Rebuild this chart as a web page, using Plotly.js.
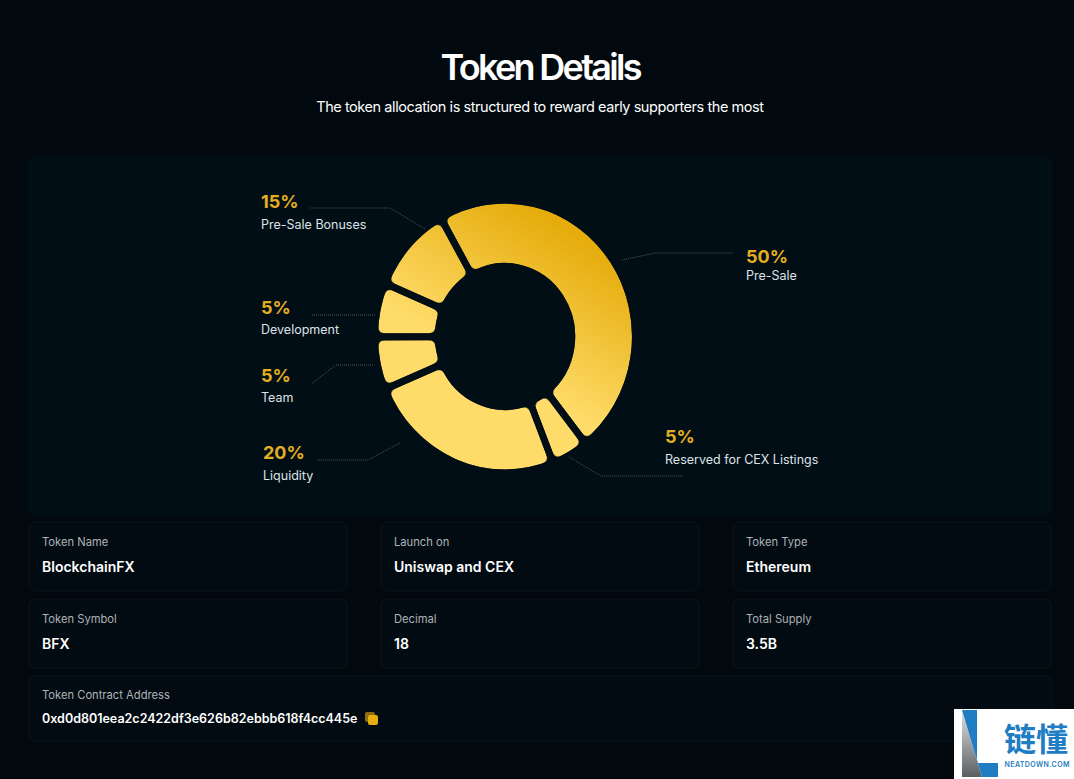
<!DOCTYPE html>
<html>
<head>
<meta charset="utf-8">
<script src="https://cdn.plot.ly/plotly-3.0.1.min.js"></script>
<style>html,body{margin:0;padding:0;background:#01090E;overflow:hidden}#c{width:1074px;height:779px}</style>
</head>
<body>
<div id="c"></div>
<script>
// Slice names and the percentages printed beside them
const sliceNames = ['Pre-Sale','Reserved for CEX Listings','Liquidity','Team','Development','Pre-Sale Bonuses'];
const statedPercents = ['50%','5%','20%','5%','5%','15%'];
// Share of the ring each slice actually occupies in the picture (read from its arcs)
const drawnShares = [47.6,4.6,24.7,6.3,6.4,10.4];

const cardLabels = ['Token Name','Launch on','Token Type','Token Symbol','Decimal','Total Supply','Token Contract Address'];
const cardValues = ['BlockchainFX','Uniswap and CEX','Ethereum','BFX','18','3.5B','0xd0d801eea2c2422df3e626b82ebbb618f4cc445e'];

const FONT = 'Inter, "Noto Sans", sans-serif';
const PANEL = '#020E16';

function rr(x0,y0,x1,y1,r){
  return `M${x0+r},${y0} L${x1-r},${y0} Q${x1},${y0} ${x1},${y0+r} L${x1},${y1-r} Q${x1},${y1} ${x1-r},${y1} L${x0+r},${y1} Q${x0},${y1} ${x0},${y1-r} L${x0},${y0+r} Q${x0},${y0} ${x0+r},${y0} Z`;
}
const px = p => ({type:'path',xref:'x',yref:'y',path:p,layer:'above'});
const shapes = [];
shapes.push(Object.assign(px(rr(28,156,1052,516,8)),{fillcolor:PANEL,line:{width:0},layer:'below'}));

const cardBoxes = [[29,522,347,591],[381,522,699,591],[733,522,1051,591],[29,599,347,668],[381,599,699,668],[733,599,1051,668],[29,676,1052,741]];
cardBoxes.forEach(b=>shapes.push(Object.assign(px(rr(b[0],b[1],b[2],b[3],7)),{fillcolor:'#020B12',line:{color:'#0A151C',width:1},layer:'below'})));

const leaders = [
  'M622,260 L655,253 L733,253',
  'M569,457 L601,476 L683,476',
  'M400,443 L368,460 L317,460',
  'M373,365 L336,365 L311,384',
  'M375,315 L312,315',
  'M425,229 L390,208 L310,208'
];
leaders.forEach(p=>shapes.push(Object.assign(px(p),{line:{color:'#4A555C',width:1,dash:'1px,1px'},layer:'below'})));

// copy icon
shapes.push(Object.assign(px(rr(365,712,375,722,2)),{fillcolor:'#8F6D0C',line:{width:0}}));
shapes.push(Object.assign(px(rr(368,715,378,725,2)),{fillcolor:'#E6AE10',line:{width:0}}));

// watermark
shapes.push(Object.assign(px('M954,709 L1074,709 L1074,779 L954,779 Z'),{fillcolor:'#FFFFFF',line:{width:0}}));
const wmGrayIndex = shapes.length;
shapes.push(Object.assign(px('M962,710 L982,777 L962,777 Z'),{fillcolor:'#999999',line:{width:0}}));
shapes.push(Object.assign(px('M962,710 L977,710 L977,763 L998,763 L998,777 L982,777 Z'),{fillcolor:'#1F7DC4',line:{width:0}}));

const ann = [];
function t(x,y,text,size,color,weight,anchor){
  ann.push({xref:'x',yref:'y',x,y,text,showarrow:false,xanchor:anchor||'left',yanchor:'middle',borderpad:0,
    font:{family:FONT,size,color,weight:weight||400}});
}
t(540,67,'Token Details',36,'#FFFFFF',600,'center');
t(540,106.5,'The token allocation is structured to reward early supporters the most',14.5,'#FFFFFF',400,'center');

const labelPos = [[745,256,275],[664,436,459],[262,452,475],[260,375,397],[260,307,329],[260,201,224]];
sliceNames.forEach((n,i)=>{
  const p = labelPos[i];
  t(p[0],p[1],statedPercents[i],18,'#E3AE20',700);
  t(p[0],p[2],n,12.5,'#DDE3E6',400);
});

cardLabels.forEach((l,i)=>{
  const b = cardBoxes[i];
  const last = i===6;
  t(b[0]+12,b[1]+(last?19:19.5),l,11.2,'#AEB3B6',400);
  t(b[0]+12,b[1]+(last?42:44.5),cardValues[i],last?12.5:14,'#FFFFFF',600);
});
t(1036,737,'链懂',32,'#1F7DC4',700,'center');
ann[ann.length-1].font.family='"Noto Sans CJK SC", sans-serif';
t(1037,764,'NEATDOWN.COM',7,'#1F7DC4',600,'center');

const cx=505, cy=336.5, R=136.5, W=1074, H=779;
const data = [
  {type:'scatter',x:[0],y:[0],mode:'none',hoverinfo:'skip',showlegend:false},
  {type:'pie',labels:sliceNames,values:drawnShares,sort:false,direction:'clockwise',rotation:-29.6,hole:0.513,
   textinfo:'none',hoverinfo:'skip',showlegend:false,
   marker:{colors:['#EDBB25','#FDD962','#FFDB69','#FFDB69','#FFDB69','#F8CF50'],line:{color:PANEL,width:7}},
   domain:{x:[(cx-R)/W,(cx+R)/W],y:[1-(cy+R)/H,1-(cy-R)/H]}}
];
const layout = {
  width:W,height:H,margin:{l:0,r:0,t:0,b:0,pad:0},
  paper_bgcolor:'#01090E',plot_bgcolor:'rgba(0,0,0,0)',showlegend:false,
  xaxis:{visible:false,range:[0,W],fixedrange:true,domain:[0,1]},
  yaxis:{visible:false,range:[H,0],fixedrange:true,domain:[0,1]},
  shapes,annotations:ann
};
Plotly.newPlot('c',data,layout,{staticPlot:true,displayModeBar:false}).then(gd=>{
  const NS='http://www.w3.org/2000/svg';
  const defs=document.createElementNS(NS,'svg');
  defs.setAttribute('width',0);defs.setAttribute('height',0);defs.style.position='absolute';
  defs.innerHTML=`<defs>
   <linearGradient id="gold" gradientUnits="userSpaceOnUse" x1="${cx+62}" y1="${cy-109}" x2="${cx-18}" y2="${cy+30}">
     <stop offset="0" stop-color="#E5AC0B"/><stop offset="1" stop-color="#FFDC6A"/>
   </linearGradient>
   <linearGradient id="wmg" x1="0" y1="0" x2="0" y2="1">
     <stop offset="0" stop-color="#E2E2E2"/><stop offset="1" stop-color="#5A5F62"/>
   </linearGradient>
   <filter id="roundCorners" filterUnits="userSpaceOnUse" x="0" y="0" width="1074" height="779" color-interpolation-filters="sRGB">
     <feColorMatrix in="SourceGraphic" type="matrix" values="0 0 0 0 1  0 0 0 0 1  0 0 0 0 1  1.15 0 0 0 0" result="a"/>
     <feGaussianBlur in="a" stdDeviation="3" result="b"/>
     <feComponentTransfer in="b" result="c"><feFuncA type="linear" slope="7" intercept="-3"/></feComponentTransfer>
     <feComposite in="SourceGraphic" in2="c" operator="in"/>
   </filter></defs>`;
  document.body.appendChild(defs);
  gd.querySelectorAll('.pielayer path.surface').forEach(p=>{p.style.fill='url(#gold)';});
  gd.querySelector('.pielayer').style.filter='url(#roundCorners)';
  // the reference picture is slightly narrower than it is tall
  gd.querySelector('.pielayer .trace').setAttribute('transform',`translate(${cx},${cy}) scale(0.955,1) translate(${-cx},${-cy})`);
  const g=[...gd.querySelectorAll('path[data-index]')].find(e=>e.getAttribute('data-index')==wmGrayIndex);
  if(g) g.style.fill='url(#wmg)';
  gd.querySelectorAll('.annotation-text').forEach(e=>{
    const s=e.textContent;
    if(s==='Token Details') e.style.letterSpacing='-0.075em';
    if(s.startsWith('The token')) e.style.letterSpacing='-0.03em';
    if(s==='NEATDOWN.COM') e.style.letterSpacing='0.06em';
  });
});
</script>
</body>
</html>
